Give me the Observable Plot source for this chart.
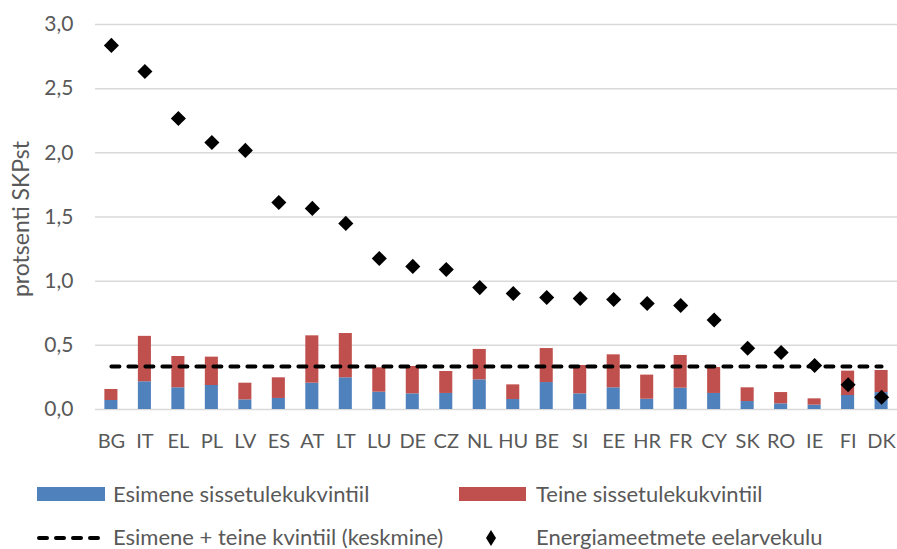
<!DOCTYPE html>
<html>
<head>
<meta charset="utf-8">
<script src="https://cdn.jsdelivr.net/npm/d3@7"></script>
<script src="https://cdn.jsdelivr.net/npm/@observablehq/plot@0.6"></script>
<style>
  body { margin: 0; background: #fff; font-family: Lato, "Open Sans", sans-serif; }
  #wrap { position: relative; width: 897px; height: 549px; overflow: hidden; }
  .leg { position: absolute; font-size: 22px; color: #595959; white-space: nowrap; line-height: 1; }
  .sw { position: absolute; }
</style>
</head>
<body>
<div id="wrap">
  <div id="chart"></div>
  <div class="sw" style="left:37px; top:487px; width:68px; height:14px; background:#4F81BD;"></div>
  <div class="leg" style="left:113px; top:483px;">Esimene sissetulekukvintiil</div>
  <div class="sw" style="left:459px; top:487px; width:67px; height:14px; background:#C0504D;"></div>
  <div class="leg" style="left:536px; top:483px;">Teine sissetulekukvintiil</div>
  <svg class="sw" style="left:30px; top:528px;" width="80" height="20">
    <line x1="9" y1="10" x2="74" y2="10" stroke="#000" stroke-width="4" stroke-dasharray="8,9" stroke-linecap="round"></line>
  </svg>
  <div class="leg" style="left:113px; top:526px;">Esimene + teine kvintiil (keskmine)</div>
  <svg class="sw" style="left:480px; top:528px;" width="22" height="20">
    <path d="M11,2 L16,10 L11,18 L6,10 Z" fill="#000"></path>
  </svg>
  <div class="leg" style="left:536px; top:526px;">Energiameetmete eelarvekulu</div>
</div>
<script>
const countries = ["BG","IT","EL","PL","LV","ES","AT","LT","LU","DE","CZ","NL","HU","BE","SI","EE","HR","FR","CY","SK","RO","IE","FI","DK"];
const firstQuintile  = [0.070,0.216,0.169,0.187,0.075,0.086,0.205,0.247,0.135,0.122,0.125,0.231,0.078,0.210,0.122,0.169,0.080,0.166,0.125,0.062,0.044,0.034,0.109,0.132];
const secondQuintile = [0.086,0.354,0.244,0.221,0.130,0.161,0.369,0.345,0.190,0.213,0.171,0.237,0.114,0.265,0.221,0.257,0.188,0.255,0.202,0.107,0.088,0.049,0.190,0.172];
const energyCost     = [2.837,2.634,2.268,2.081,2.019,1.613,1.567,1.450,1.177,1.115,1.091,0.950,0.904,0.873,0.865,0.857,0.826,0.810,0.697,0.477,0.444,0.343,0.193,0.096];
const averageQuintiles = 0.335;
const yTicks = [0, 0.5, 1.0, 1.5, 2.0, 2.5, 3.0];

const seriesNames = ["Esimene sissetulekukvintiil", "Teine sissetulekukvintiil"];
const barData = [];
countries.forEach((c, i) => {
  barData.push({country: c, series: seriesNames[0], value: firstQuintile[i]});
  barData.push({country: c, series: seriesNames[1], value: secondQuintile[i]});
});
const pointData = countries.map((c, i) => ({country: c, value: energyCost[i]}));
const avgData = countries.map(c => ({country: c, value: averageQuintiles}));

const fmt = d => d.toFixed(1).replace(".", ",");

const chart = Plot.plot({
  width: 897,
  height: 460,
  marginTop: 24,
  marginBottom: 51,
  marginLeft: 95,
  marginRight: 0,
  style: {fontFamily: "Lato, 'Open Sans', sans-serif", fontSize: "20px", color: "#595959", background: "#fff"},
  x: {domain: countries, paddingInner: 0.61, paddingOuter: 0.28, round: false, label: null},
  y: {domain: [0, 3], label: null},
  color: {domain: seriesNames, range: ["#4F81BD", "#C0504D"]},
  marks: [
    Plot.gridY(yTicks, {stroke: "#d9d9d9", strokeOpacity: 1, strokeWidth: 1.5}),
    Plot.barY(barData, {x: "country", y: "value", fill: "series", order: seriesNames}),
    Plot.lineY(avgData, {x: "country", y: "value", stroke: "#000", strokeWidth: 4, strokeDasharray: "8,9", strokeLinecap: "round"}),
    Plot.dot(pointData, {x: "country", y: "value", symbol: "diamond2", r: 6.8, fill: "#000", stroke: "none"}),
    Plot.axisY(yTicks, {tickSize: 0, tickPadding: 22, tickFormat: fmt, fontSize: 21, fill: "#595959", label: null}),
    Plot.text(["protsenti SKPst"], {frameAnchor: "left", dx: -74, dy: 2, rotate: -90, textAnchor: "middle", fontSize: 23, fill: "#595959", text: d => d}),
    Plot.axisX({tickSize: 0, tickPadding: 24, fontSize: 20, fill: "#595959", label: null})
  ]
});
document.getElementById("chart").appendChild(chart);
</script>
</body>
</html>
